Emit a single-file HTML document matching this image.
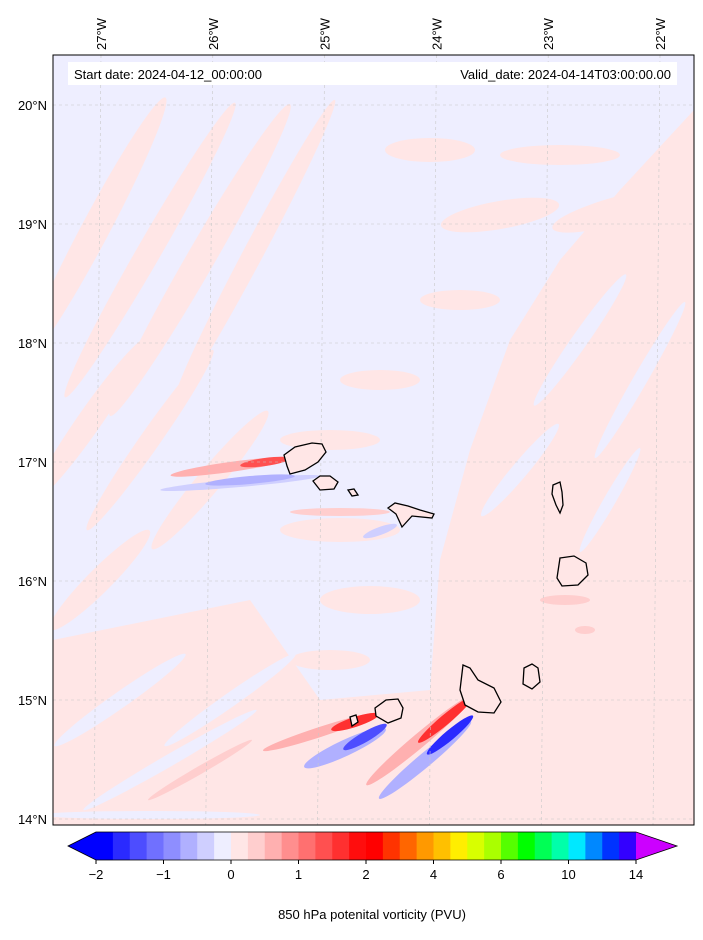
<!DOCTYPE html>
<html><head><meta charset="utf-8"><style>
body{margin:0;background:#fff;font-family:"Liberation Sans",sans-serif;}
svg text{font-family:"Liberation Sans",sans-serif;}
</style></head><body>
<svg id="fig" width="703" height="935" viewBox="0 0 703 935" xmlns="http://www.w3.org/2000/svg">
<defs><clipPath id="mc"><rect x="53" y="55" width="641" height="770"/></clipPath></defs>
<g clip-path="url(#mc)">
<rect x="53" y="55" width="641" height="770" fill="#ffe6e6"/>
<path d="M53,55 L694,55 L694,110 L620,190 L560,260 L510,340 L470,450 L440,560 L430,690 L320,700 L250,600 L53,640 Z" fill="#eeeeff"/>
<g fill="#ffe6e6">
<ellipse cx="95" cy="230" rx="150" ry="14" transform="rotate(-62 95 230)"/>
<ellipse cx="150" cy="250" rx="170" ry="12" transform="rotate(-60 150 250)"/>
<ellipse cx="200" cy="260" rx="180" ry="14" transform="rotate(-60 200 260)"/>
<ellipse cx="255" cy="250" rx="170" ry="10" transform="rotate(-62 255 250)"/>
<ellipse cx="90" cy="420" rx="100" ry="12" transform="rotate(-55 90 420)"/>
<ellipse cx="150" cy="440" rx="110" ry="10" transform="rotate(-55 150 440)"/>
<ellipse cx="210" cy="480" rx="90" ry="12" transform="rotate(-50 210 480)"/>
<ellipse cx="100" cy="580" rx="70" ry="12" transform="rotate(-45 100 580)"/>
<ellipse cx="430" cy="150" rx="45" ry="12"/>
<ellipse cx="500" cy="215" rx="60" ry="14" transform="rotate(-10 500 215)"/>
<ellipse cx="460" cy="300" rx="40" ry="10"/>
<ellipse cx="560" cy="155" rx="60" ry="10"/>
<ellipse cx="620" cy="210" rx="70" ry="14" transform="rotate(-15 620 210)"/>
<ellipse cx="380" cy="380" rx="40" ry="10"/>
<ellipse cx="330" cy="440" rx="50" ry="10"/>
<ellipse cx="340" cy="530" rx="60" ry="12"/>
<ellipse cx="370" cy="600" rx="50" ry="14"/>
<ellipse cx="330" cy="660" rx="40" ry="10"/>
</g>
<g fill="#eeeeff">
<ellipse cx="120" cy="700" rx="80" ry="8" transform="rotate(-35 120 700)"/>
<ellipse cx="170" cy="760" rx="100" ry="6" transform="rotate(-30 170 760)"/>
<ellipse cx="230" cy="700" rx="80" ry="7" transform="rotate(-35 230 700)"/>
<ellipse cx="150" cy="815" rx="110" ry="4"/>
<ellipse cx="580" cy="340" rx="80" ry="8" transform="rotate(-55 580 340)"/>
<ellipse cx="640" cy="380" rx="90" ry="7" transform="rotate(-60 640 380)"/>
<ellipse cx="610" cy="500" rx="60" ry="6" transform="rotate(-60 610 500)"/>
<ellipse cx="520" cy="470" rx="60" ry="8" transform="rotate(-50 520 470)"/>
</g>
<g fill="#ffcece">
<ellipse cx="340" cy="512" rx="50" ry="4"/>
<ellipse cx="565" cy="600" rx="25" ry="5"/>
<ellipse cx="585" cy="630" rx="10" ry="4"/>
<ellipse cx="200" cy="770" rx="60" ry="4" transform="rotate(-30 200 770)"/>
</g>
<g fill="#cfcfff">
<ellipse cx="380" cy="531" rx="18" ry="4" transform="rotate(-20 380 531)"/>
<ellipse cx="240" cy="483" rx="80" ry="4" transform="rotate(-5 240 483)"/>
</g>
<ellipse cx="230" cy="467" rx="60" ry="5" fill="#ffb0b0" transform="rotate(-8 230 467)"/>
<ellipse cx="265" cy="462" rx="25" ry="4" fill="#ff5050" transform="rotate(-8 265 462)"/>
<ellipse cx="250" cy="480" rx="45" ry="4" fill="#b0b0ff" transform="rotate(-5 250 480)"/>
<ellipse cx="320" cy="732" rx="60" ry="5" fill="#ffb0b0" transform="rotate(-18 320 732)"/>
<ellipse cx="355" cy="722" rx="25" ry="5" fill="#ff3030" transform="rotate(-18 355 722)"/>
<ellipse cx="345" cy="748" rx="45" ry="8" fill="#b0b0ff" transform="rotate(-25 345 748)"/>
<ellipse cx="365" cy="737" rx="25" ry="5" fill="#4d4dff" transform="rotate(-30 365 737)"/>
<ellipse cx="420" cy="740" rx="70" ry="7" fill="#ffb0b0" transform="rotate(-40 420 740)"/>
<ellipse cx="445" cy="720" rx="35" ry="5" fill="#ff3030" transform="rotate(-40 445 720)"/>
<ellipse cx="425" cy="760" rx="60" ry="7" fill="#b0b0ff" transform="rotate(-40 425 760)"/>
<ellipse cx="450" cy="735" rx="30" ry="5" fill="#2a2aff" transform="rotate(-40 450 735)"/>
</g>
<g id="grid" stroke="#c8c8c8" stroke-width="0.6" stroke-dasharray="3,3" fill="none"></g>
<g fill="#ffe6e6" stroke="#000" stroke-width="1.3">
<path d="M284,455 L295,447 L312,443 L322,444 L326,452 L318,462 L305,470 L290,474 L287,466 Z"/>
<path d="M313,481 L320,476 L330,476 L338,482 L334,489 L320,490 Z"/>
<path d="M348,490 L354,489 L358,495 L352,496 Z"/>
<path d="M388,508 L395,503 L408,506 L420,510 L434,514 L432,518 L412,516 L402,527 L396,514 Z"/>
<path d="M553,485 L560,482 L562,492 L563,505 L560,513 L556,505 L552,494 Z"/>
<path d="M560,558 L574,556 L586,563 L588,575 L578,585 L562,586 L557,578 Z"/>
<path d="M524,668 L532,664 L538,668 L540,682 L532,689 L523,684 Z"/>
<path d="M463,665 L470,668 L478,680 L494,688 L501,702 L494,713 L478,712 L465,705 L460,690 Z"/>
<path d="M375,708 L386,700 L398,699 L403,708 L401,718 L388,723 L376,716 Z"/>
<path d="M350,717 L356,715 L358,722 L352,726 Z"/>
</g>
<rect x="53" y="55" width="641" height="770" fill="none" stroke="#000" stroke-width="1"/>
<rect x="68" y="62" width="609" height="23" fill="#fff"/>
<text x="74" y="79" font-size="13">Start date: 2024-04-12_00:00:00</text>
<text x="671" y="79" font-size="13" text-anchor="end">Valid_date: 2024-04-14T03:00:00.00</text>
<g id="lonlab" font-size="13"></g>
<g id="latlab" font-size="13"></g>
<g id="cbar"></g>
<text x="372" y="919" font-size="13" text-anchor="middle">850 hPa potenital vorticity (PVU)</text>
</svg>
<script>
const lonLabels=["27°W","26°W","25°W","24°W","23°W","22°W"];
const lonPos=[-27,-26,-25,-24,-23,-22];
const latLabels=["20°N","19°N","18°N","17°N","16°N","15°N","14°N"];
const latPos=[20,19,18,17,16,15,14];
const cbTicks=["−2","−1","0","1","2","4","6","10","14"];
const cbColors=["#0000ff","#2a2aff","#4d4dff","#7070ff","#8e8eff","#b0b0ff","#cfcfff","#eeeeff","#ffe6e6","#ffcece","#ffb0b0","#ff8e8e","#ff7070","#ff5050","#ff3030","#ff0d0d","#ff0000","#ff3300","#ff6600","#ff9900","#ffc000","#ffee00","#d8ff00","#aaff00","#55ff00","#00ff00","#00ff55","#00ffaa","#00e8ff","#0088ff","#0033ff","#3300ff"];
const NS="http://www.w3.org/2000/svg";
function lx(lon){return 101+(lon+27)*111.8;}
function ly(lat){return 819-(lat-14)*119;}
const grid=document.getElementById('grid');
lonPos.forEach(l=>{const p=document.createElementNS(NS,'line');
p.setAttribute('x1',lx(l));p.setAttribute('y1',55);p.setAttribute('x2',lx(l)-7);p.setAttribute('y2',825);

grid.appendChild(p);});
latPos.forEach(l=>{const p=document.createElementNS(NS,'line');
p.setAttribute('x1',53);p.setAttribute('y1',ly(l));p.setAttribute('x2',694);p.setAttribute('y2',ly(l));

grid.appendChild(p);});
const lg=document.getElementById('lonlab');
lonLabels.forEach((t,i)=>{const e=document.createElementNS(NS,'text');const x=lx(lonPos[i])+5;
e.setAttribute('transform','translate('+x+',50) rotate(-90)');e.textContent=t;

lg.appendChild(e);});
const tg=document.getElementById('latlab');
latLabels.forEach((t,i)=>{const e=document.createElementNS(NS,'text');
e.setAttribute('x',47);e.setAttribute('y',ly(latPos[i])+5);e.setAttribute('text-anchor','end');e.textContent=t;

tg.appendChild(e);});
const cb=document.getElementById('cbar');
const x0=96,x1=636,y0=832,y1=860,w=(x1-x0)/cbColors.length;
cbColors.forEach((c,i)=>{const r=document.createElementNS(NS,'rect');
r.setAttribute('x',x0+i*w);r.setAttribute('y',y0);r.setAttribute('width',w+0.5);r.setAttribute('height',y1-y0);r.setAttribute('fill',c);

cb.appendChild(r);});
const tl=document.createElementNS(NS,'polygon');tl.setAttribute('points',`${x0},${y0} 68,${(y0+y1)/2} ${x0},${y1}`);tl.setAttribute('fill','#0000ff');

cb.appendChild(tl);
const tr=document.createElementNS(NS,'polygon');tr.setAttribute('points',`${x1},${y0} 677,${(y0+y1)/2} ${x1},${y1}`);tr.setAttribute('fill','#cc00ff');

cb.appendChild(tr);
const ol=document.createElementNS(NS,'polygon');ol.setAttribute('points',`${x0},${y0} 68,${(y0+y1)/2} ${x0},${y1} ${x1},${y1} 677,${(y0+y1)/2} ${x1},${y0}`);ol.setAttribute('fill','none');ol.setAttribute('stroke','#000');ol.setAttribute('stroke-width','0.8');

cb.appendChild(ol);
cbTicks.forEach((t,i)=>{const x=x0+i*4*w;
const l=document.createElementNS(NS,'line');l.setAttribute('x1',x);l.setAttribute('x2',x);l.setAttribute('y1',y1);l.setAttribute('y2',y1+4);l.setAttribute('stroke','#000');

cb.appendChild(l);
const e=document.createElementNS(NS,'text');e.setAttribute('x',x);e.setAttribute('y',y1+19);e.setAttribute('text-anchor','middle');e.setAttribute('font-size','13');e.textContent=t;

cb.appendChild(e);});
</script>
</body></html>
